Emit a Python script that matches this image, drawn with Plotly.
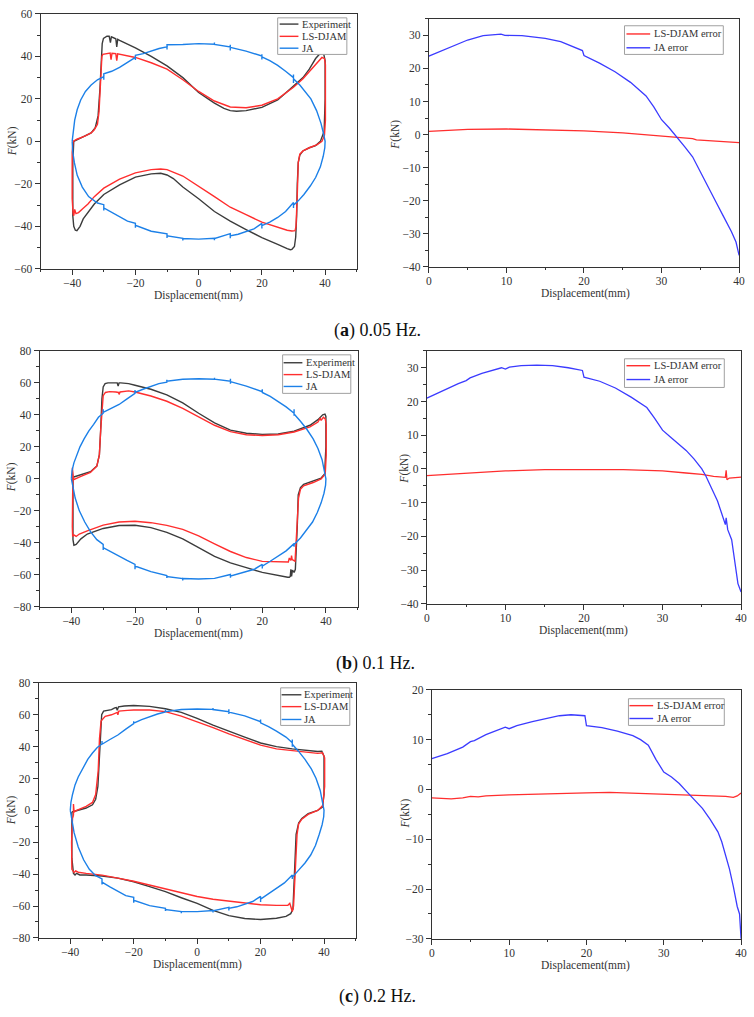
import plotly.graph_objects as go

W, H = 754, 1017

# ---------------- data ----------------
# (a) 0.05 Hz hysteresis loops: (displacement mm, force kN)
exp_a = [(-39.5, 0), (-38, 1), (-36, 2.5), (-34, 4), (-32.7, 6.4), (-31.8, 12), (-31.2, 25), (-30.8, 38),
         (-30.5, 46), (-30.1, 48.5), (-29, 49.5), (-28.3, 49.5), (-27.9, 46.5), (-27.6, 49.2), (-26.2, 48.3),
         (-25.9, 44.5), (-25.6, 48), (-25, 47.5), (-20, 44), (-15, 40), (-10, 35.5), (-5, 30), (0, 23),
         (3, 20), (5, 18), (8, 15.5), (10, 14.5), (12, 14.2), (15, 14.5), (20, 16), (25, 19.5), (30, 26),
         (33, 30), (35, 34), (37, 39), (38.5, 41.5), (39.5, 41.5), (40, 38), (40, 20), (39.7, 4.8),
         (38.5, 0), (37, -2), (35, -3), (33, -4.5), (32, -6.5), (31.5, -10), (31.2, -20), (31, -35),
         (30.7, -45), (30.3, -49.5), (29.5, -50.8), (29, -51), (28, -50.5), (25, -48.5), (20, -45.3),
         (15, -41.5), (10, -37.5), (5, -33), (0, -27), (-5, -21.5), (-8, -17.5), (-10, -15.8), (-12, -15),
         (-15, -15.3), (-20, -16.8), (-25, -20.5), (-30, -25), (-33, -29.5), (-35, -33.5), (-36.5, -36.5),
         (-37.5, -40), (-38.5, -42), (-39, -41.8), (-39.5, -40), (-39.8, -35), (-39.8, -10), (-39.5, 0)]
djam_a = [(-39.7, 0), (-38.5, 1), (-36, 2.5), (-34, 4), (-33, 5.5), (-32, 8), (-31.5, 14), (-31.2, 25),
          (-30.9, 35), (-30.6, 40), (-30.3, 41), (-29, 41.5), (-28, 41.6), (-27.7, 38.5), (-27.4, 41.5),
          (-26.2, 41.3), (-25.9, 38), (-25.6, 41.2), (-25, 41), (-20, 39.5), (-15, 37), (-10, 34), (-5, 29),
          (0, 23.5), (5, 19), (10, 16.2), (15, 15.8), (20, 17), (25, 20), (30, 25.5), (33, 29.5), (35, 33),
          (37, 36.5), (39, 39.5), (39.8, 39), (40.1, 36), (40.1, 10), (39.8, 3), (39, 0), (37.5, -1.5),
          (35, -3), (33, -4.5), (32, -6), (31.5, -10), (31.2, -25), (30.8, -40), (30.5, -42), (29.5, -42.2),
          (28, -41.8), (25, -40.3), (20, -38), (15, -34.5), (10, -31), (5, -26), (0, -21), (-5, -16.3),
          (-10, -13.3), (-12, -13), (-15, -13.3), (-20, -14.8), (-25, -17.8), (-30, -22), (-33, -26),
          (-35, -29.5), (-36.5, -31.5), (-38, -33.5), (-38.8, -34), (-39.2, -32), (-39.5, -35),
          (-39.7, -34), (-40, -27), (-40, -5), (-39.7, 0)]
ja_a = [(-40, 0), (-39.7, 5), (-39.2, 10), (-38.4, 15), (-37.3, 19.5), (-35.8, 23.5), (-34, 26.5),
        (-32, 29), (-30, 30.5), (-30, 29), (-30, 31.8), (-27.5, 33), (-25, 34.8), (-22.5, 37.2), (-20, 39.5),
        (-20, 38.3), (-20, 40.5), (-17.5, 41.3), (-15, 42.6), (-12.5, 43.7), (-10, 44.5), (-10, 43.3),
        (-10, 45.5), (-5, 45.6), (0, 46), (5, 45.7), (5, 46.6), (5, 45.6), (10, 44.5), (10, 45.5),
        (10, 42.8), (10, 44.3), (15, 42.5), (20, 40.2), (20, 41), (20, 38.6), (20, 39.8), (22.5, 38),
        (25, 35.8), (27.5, 33), (30, 30), (30, 31.5), (30, 27.5), (30, 29.5), (32, 26.5), (34, 23),
        (35.5, 20), (37.3, 14.5), (38.7, 8.5), (39.6, 3), (40, 0), (39.9, -3), (39.4, -7), (38.5, -12),
        (37, -17), (35.3, -21), (33.3, -25), (31.5, -28), (30, -30), (30, -31.3), (30, -28.8), (27.5, -33),
        (25, -35.8), (22.5, -38), (20, -39.7), (20, -41), (20, -38.6), (17.5, -41.2), (15, -42.5),
        (12.5, -43.7), (10, -44.5), (10, -45.6), (10, -43.4), (5, -45.7), (5, -46.5), (5, -45.6), (0, -46),
        (-5, -45.7), (-5, -46.6), (-5, -45.6), (-10, -44.5), (-10, -45.5), (-10, -43.5), (-15, -42.3),
        (-20, -39.5), (-20, -40.7), (-20, -38.6), (-22.5, -37.5), (-25, -35.5), (-27.5, -33.3), (-30, -31.3),
        (-30, -32.5), (-30, -29.8), (-32, -29), (-34.8, -26), (-36.8, -21.5), (-38.4, -16), (-39.3, -10),
        (-39.8, -5), (-40, 0)]

# (a) errors
err_x_a_djam = [0, 2, 5, 10, 15, 20, 25, 28, 30, 33, 34, 34.5, 36, 38, 40]
err_y_a_djam = [1.0, 1.3, 1.6, 1.7, 1.5, 1.1, 0.5, 0.0, -0.4, -1.0, -1.2, -1.6, -1.8, -2.2, -2.4]
err_x_a_ja = [0, 2, 4, 5, 7, 9.3, 9.8, 12, 15, 17, 19.8, 20, 22, 24, 26, 28, 29, 30, 31, 32, 33, 34, 35,
              36, 37, 38, 39, 39.6, 40]
err_y_a_ja = [23.7, 25.7, 27.6, 28.6, 29.9, 30.4, 30.0, 29.9, 29.1, 28.1, 25.4, 23.9, 21.6, 19.0, 15.8,
              11.7, 8.4, 4.5, 2.0, -0.7, -3.7, -6.7, -11.4, -16.0, -20.3, -24.8, -29.3, -32.5, -36.5]

# (b) 0.1 Hz hysteresis loops
exp_b = [(-39.5, 1), (-37, 2.5), (-34, 4.5), (-32, 8), (-31.2, 15), (-30.8, 30), (-30.4, 50), (-30, 57.5),
         (-29.4, 59.5), (-28.5, 60), (-27, 60), (-25.6, 60), (-25.3, 58), (-25, 60), (-24.5, 60),
         (-22, 59.5), (-20, 58.5), (-15, 56), (-10, 52.5), (-5, 47.5), (0, 41), (5, 35), (10, 30.5),
         (15, 28.5), (20, 27.8), (25, 28), (30, 29.8), (35, 33.5), (37.5, 37), (39, 40), (39.7, 40.5),
         (40, 39), (40, 20), (39.6, 3), (38.5, 0.5), (36, -1.5), (33, -3.5), (32, -5.5), (31.3, -10),
         (31, -30), (30.7, -50), (30.4, -56.5), (30, -58.5), (29.5, -57), (29.2, -61), (29, -56.5),
         (28.8, -61), (28.5, -61.5), (28, -61.5), (25, -60.5), (20, -58.5), (15, -55.5), (10, -52.5),
         (5, -48.5), (0, -43), (-5, -37.5), (-10, -33.5), (-15, -30.5), (-20, -29), (-25, -29.2),
         (-30, -31), (-35, -34.5), (-37, -37.5), (-38.5, -41), (-39.2, -41.5), (-39.5, -38), (-39.5, 1)]
djam_b = [(-39.5, -0.5), (-39.7, 7), (-39.3, -0.5), (-37, 1.5), (-34, 4), (-32, 8), (-31.2, 15),
          (-30.8, 30), (-30.4, 45), (-30, 52), (-29.3, 54), (-28, 54.5), (-26, 54.3), (-25.2, 54),
          (-25, 52.8), (-24.7, 54.3), (-22, 55), (-20, 54.3), (-15, 51.8), (-10, 48.5), (-5, 44), (0, 38.7),
          (5, 33.5), (10, 29.5), (15, 27.6), (20, 27.1), (25, 27.6), (30, 29.3), (35, 32.5), (37.5, 35.5),
          (38.2, 38), (38.5, 36.5), (39.2, 38.5), (39.8, 37.5), (40.1, 34), (40.1, 15), (39.8, 3),
          (38.5, 0), (36, -2.3), (33, -4.3), (32, -6.5), (31.4, -12), (31.1, -25), (30.8, -40),
          (30.6, -48), (30.3, -51.5), (29.4, -50.5), (29.2, -48), (29, -51), (28.5, -49.5), (28.2, -52),
          (25, -51.7), (20, -51.6), (15, -49.2), (10, -45.4), (5, -40.6), (0, -35.6), (-5, -31.6),
          (-10, -29.1), (-15, -27.4), (-20, -26.5), (-25, -27), (-30, -28.9), (-35, -32.5), (-37.5, -34.5),
          (-38.5, -36), (-39.2, -35), (-39.6, -36), (-39.7, -30), (-39.6, -10), (-39.5, -0.5)]
ja_b = [(-40, 0), (-39.8, 5), (-39.2, 10), (-38.3, 15), (-37.3, 20), (-36, 25), (-34.5, 30), (-33, 34),
        (-31.5, 38.5), (-30, 41), (-30, 43.5), (-30, 41.5), (-27.5, 44), (-25, 46.5), (-22.5, 50),
        (-20, 53.5), (-20, 55.5), (-20, 54), (-17.5, 56), (-15, 57.8), (-12.5, 59.5), (-10, 60.5),
        (-10, 62), (-10, 61), (-5, 62.3), (0, 62.6), (5, 62.3), (5, 63.2), (5, 62.3), (10, 61),
        (10, 62.5), (10, 59.5), (10, 60.8), (15, 58), (20, 54.5), (20, 56), (20, 54), (22.5, 51.5),
        (25, 48.5), (27.5, 45), (30, 41), (30, 43.5), (30, 39.5), (30, 40.5), (32, 36), (34, 31), (36, 25),
        (37.5, 19), (38.8, 12), (39.6, 5), (40, 0), (39.9, -4), (39.4, -9), (38.5, -15), (37.3, -21),
        (35.8, -27), (34, -32), (32, -37), (30, -41), (30, -42.5), (30, -40.5), (27.5, -45), (25, -48.5),
        (22.5, -51.5), (20, -54.5), (20, -56), (20, -53.5), (17.5, -56.5), (15, -58), (12.5, -59.5),
        (10, -60.7), (10, -61.8), (10, -59.8), (5, -62.2), (0, -62.6), (-5, -62.3), (-5, -63.5),
        (-5, -62.3), (-10, -61), (-10, -62), (-10, -60.5), (-15, -58), (-20, -54.5), (-20, -56.5),
        (-20, -53.5), (-22.5, -51), (-25, -48.5), (-27.5, -45.5), (-30, -43), (-30, -44.5), (-30, -41),
        (-32, -38), (-34, -33), (-35.8, -27), (-37.5, -20), (-38.8, -12), (-39.6, -5), (-40, 0)]

# (b) errors
err_x_b_djam = [0, 5, 10, 15, 20, 25, 28, 30, 33, 35, 36.5, 38, 38.1, 38.2, 38.5, 40]
err_y_b_djam = [-2.0, -1.2, -0.6, -0.2, -0.1, -0.2, -0.4, -0.6, -1.2, -1.6, -2.2, -2.5, -0.4, -3.2, -2.7, -2.4]
err_x_b_ja = [0, 2, 4, 5, 5.5, 7, 9, 9.5, 10, 10.5, 12, 14, 16, 18, 19.8, 20, 22, 24, 26, 28, 29, 30, 31,
              32, 33, 34, 35, 35.5, 36, 37, 37.5, 38, 38.1, 38.3, 38.8, 39.2, 39.6, 40]
err_y_b_ja = [21.0, 23.2, 25.3, 26.2, 27.0, 28.3, 29.7, 30.0, 29.6, 30.2, 30.6, 30.8, 30.6, 30.0, 29.2,
              27.2, 26.0, 24.0, 21.3, 18.2, 15.0, 11.5, 9.5, 7.5, 5.5, 3.0, 0.0, -2.0, -4.5, -9.5, -13.0,
              -16.5, -14.5, -18.0, -21.0, -28.0, -34.0, -36.5]

# (c) 0.2 Hz hysteresis loops
exp_c = [(-39.5, -1), (-38, 0), (-35, 1.5), (-33, 3.5), (-32, 7), (-31.3, 15), (-30.9, 30), (-30.5, 48),
         (-30.1, 60), (-29.5, 62.3), (-28, 62.8), (-27, 63.2), (-26, 64.3), (-25.5, 64.5), (-25.2, 62.8),
         (-24.8, 65), (-23, 65.5), (-20, 65.8), (-15, 65.3), (-10, 63.8), (-5, 61.5), (0, 57.8), (5, 53.5),
         (10, 49.5), (15, 46), (20, 42.3), (25, 40), (30, 38.6), (35, 37.5), (38, 37), (39.3, 37.2),
         (40, 34), (40, 10), (39.5, 2), (38, 0), (35, -2), (33, -5), (32, -8), (31.2, -15), (30.8, -35),
         (30.5, -55), (30.2, -62), (29.5, -64.8), (28, -66.5), (25, -67.7), (20, -68.5), (15, -67.8),
         (10, -66), (5, -62.8), (0, -58.4), (-5, -54.8), (-10, -51), (-15, -47.8), (-20, -44.8),
         (-25, -42.5), (-30, -41.2), (-35, -40.5), (-37, -40.5), (-38, -39.5), (-38.5, -40.5),
         (-39, -39.5), (-39.5, -30), (-39.5, -1)]
djam_c = [(-39, -3), (-39, 4), (-38.8, -1), (-38, 0), (-35, 2.5), (-33, 5), (-32, 10), (-31.2, 25),
          (-30.8, 45), (-30.3, 56), (-29, 59), (-27, 60), (-26, 60.8), (-25.2, 61.5), (-25, 60),
          (-24.7, 62.3), (-22, 62.8), (-20, 63), (-15, 63), (-10, 62), (-5, 59.2), (0, 55.7), (5, 52),
          (10, 48), (15, 44.5), (20, 41), (25, 38.6), (30, 37.4), (35, 36.2), (38, 35.8), (39.5, 36.2),
          (40.2, 33), (40.2, 15), (39.6, 3), (38, 0), (35, -2.5), (33, -5.5), (32, -8.5), (31.5, -15),
          (31.1, -30), (30.7, -50), (30.4, -60), (30, -63.5), (29.6, -59.8), (29.2, -58.3), (28.6, -59.5),
          (25, -59.6), (20, -59.2), (15, -58.2), (10, -57.2), (5, -55.8), (0, -54), (-5, -51.6),
          (-10, -49), (-15, -46.6), (-20, -44.5), (-25, -42.5), (-30, -40.6), (-35, -39.5),
          (-37.5, -38.8), (-38.3, -38), (-38.8, -39), (-39.5, -37), (-39.6, -20), (-39.3, -5), (-39, -3)]
ja_c = [(-40, 0), (-39.8, 5), (-39.3, 10), (-38.5, 16), (-37.5, 21), (-36, 27), (-34.5, 32), (-33, 36),
        (-31.5, 39.5), (-30, 41.7), (-30, 43.5), (-30, 41.5), (-27.5, 44.5), (-25, 47.3), (-22.5, 51),
        (-20, 54.5), (-20, 56), (-20, 54.8), (-17.5, 57), (-15, 58.8), (-12.5, 60.5), (-10, 61.8),
        (-10, 63.3), (-10, 62), (-5, 63.3), (0, 63.6), (5, 63.4), (5, 64.2), (5, 63.3), (10, 62),
        (10, 63.5), (10, 60.5), (10, 61.7), (15, 59.3), (20, 55.7), (20, 57), (20, 55), (22.5, 52.5),
        (25, 49.8), (28, 46), (30, 42.5), (30, 44.5), (30, 40), (30, 41.5), (32, 37), (34, 32), (36, 26),
        (37.5, 20), (38.8, 12.5), (39.6, 5), (40, 0), (39.9, -4), (39.4, -9), (38.5, -15), (37.3, -22),
        (35.8, -28), (34, -33), (32, -37.5), (30, -41.9), (30, -43), (30, -40.5), (27.5, -45.5),
        (25, -49), (22.5, -52.5), (20, -55.7), (20, -57.5), (20, -54), (17.5, -57.2), (15, -59),
        (12.5, -60.5), (10, -61.5), (10, -62.8), (10, -60.8), (5, -63), (5, -64), (5, -62.8), (0, -63.5),
        (-5, -63.5), (-5, -64.5), (-5, -63.5), (-10, -62.2), (-10, -63.2), (-10, -61.5), (-15, -59.8),
        (-20, -56.4), (-20, -58), (-20, -54.5), (-22.5, -53.5), (-25, -51), (-27.5, -48), (-30, -45),
        (-30, -46.5), (-30, -43), (-32, -41), (-34, -37), (-35.8, -31), (-37.5, -23), (-38.8, -14),
        (-39.6, -6), (-40, 0)]

# (c) errors
err_x_c_djam = [0, 2.5, 4, 5, 6, 7, 10, 12, 15, 17, 20, 23, 25, 27, 30, 33, 36, 38, 39, 39.5, 40]
err_y_c_djam = [-1.7, -1.9, -1.7, -1.4, -1.5, -1.3, -1.1, -1.0, -0.8, -0.7, -0.7, -0.6, -0.7, -0.8,
                -0.9, -1.1, -1.2, -1.4, -1.6, -1.3, -0.7]
err_x_c_ja = [0, 2, 4, 5, 5.5, 6, 7, 8, 9.5, 10, 11, 13, 15, 16.5, 18, 19.8, 20, 22, 24, 25, 26, 27, 28,
              29, 30, 31, 32, 33, 34, 35, 36, 37, 37.5, 38, 38.5, 39, 39.5, 39.8, 40]
err_y_c_ja = [6.2, 7.2, 8.5, 9.6, 9.8, 10.2, 11.0, 11.6, 12.5, 12.2, 12.8, 13.6, 14.3, 14.8, 15.0, 14.8,
              12.8, 12.4, 11.7, 11.3, 10.8, 10.0, 8.9, 6.0, 3.5, 2.5, 1.2, -0.5, -2.2, -3.8, -6.0, -8.5,
              -10.5, -13.0, -16.0, -19.5, -23.5, -25.0, -30.0]

loop_names = ["Experiment", "LS-DJAM", "JA"]
err_names = ["LS-DJAM error", "JA error"]
x_title = "Displacement(mm)"
y_title = "<i>F</i>(kN)"
captions = ["(<b>a</b>) 0.05 Hz.", "(<b>b</b>) 0.1 Hz.", "(<b>c</b>) 0.2 Hz."]

# ---------------- styling / layout ----------------
FONT = "Liberation Serif"
TXT = "#333333"
C_EXP = "#3c3c3c"
C_DJAM = "#ff2e2e"
C_JA = "#1c80e8"
C_JAERR = "#3b3bff"


def px(x):
    return x / W


def py(y):
    return 1 - y / H


# panel geometry in pixels: x0, x1, y0(top), y1(bottom)
geo = [
    (38, 358, 8, 266), (431, 745, 13, 264),
    (37, 359, 349, 608), (429, 747, 349, 605),
    (36, 357, 685, 943), (434, 747, 692, 944),
]
ranges = [
    ([-50, 50], [-60, 60], 20, 10, 20, 10),
    ([0, 40], [-40, 35], 10, 5, 10, 5),
    ([-50, 50], [-80, 80], 20, 10, 20, 10),
    ([0, 40], [-40, 35], 10, 5, 10, 5),
    ([-50, 50], [-80, 80], 20, 10, 20, 10),
    ([0, 40], [-30, 20], 10, 5, 10, 5),
]

fig = go.Figure()


def xy(pairs):
    return [p[0] for p in pairs], [p[1] for p in pairs]


loops = [(exp_a, djam_a, ja_a), (exp_b, djam_b, ja_b), (exp_c, djam_c, ja_c)]
errs = [
    ((err_x_a_djam, err_y_a_djam), (err_x_a_ja, err_y_a_ja)),
    ((err_x_b_djam, err_y_b_djam), (err_x_b_ja, err_y_b_ja)),
    ((err_x_c_djam, err_y_c_djam), (err_x_c_ja, err_y_c_ja)),
]

for r in range(3):
    li = 2 * r + 1
    ei = 2 * r + 2
    for data, name, col in zip(loops[r], loop_names, [C_EXP, C_DJAM, C_JA]):
        xs, ys = xy(data)
        fig.add_trace(go.Scatter(x=xs, y=ys, mode="lines", name=name, showlegend=False,
                                 line=dict(color=col, width=1.4),
                                 xaxis=f"x{li}", yaxis=f"y{li}"))
    for (xs, ys), name, col in zip(errs[r], err_names, [C_DJAM, C_JAERR]):
        fig.add_trace(go.Scatter(x=xs, y=ys, mode="lines", name=name, showlegend=False,
                                 line=dict(color=col, width=1.3),
                                 xaxis=f"x{ei}", yaxis=f"y{ei}"))

layout = dict(width=W, height=H, margin=dict(l=0, r=0, t=0, b=0),
              paper_bgcolor="white", plot_bgcolor="white", showlegend=False,
              font=dict(family=FONT, size=11, color=TXT))

for i, ((x0, x1, y0, y1), (xr, yr, xdt, xmn, ydt, ymn)) in enumerate(zip(geo, ranges), start=1):
    common = dict(showgrid=False, zeroline=False, tickfont=dict(family=FONT, size=11.5, color=TXT))
    layout[f"xaxis{i}"] = dict(domain=[px(x0), px(x1)], range=xr, anchor=f"y{i}", dtick=xdt, tick0=0,
                               showline=True, mirror=True, linecolor="#333", linewidth=1,
                               ticks="outside", ticklen=5, tickwidth=1, tickcolor="#333",
                               ticklabelstandoff=-2,
                               minor=dict(ticks="outside", ticklen=2.5, dtick=xmn, tickcolor="#333"),
                               **common)
    layout[f"yaxis{i}"] = dict(domain=[py(y1), py(y0)], range=yr, anchor=f"x{i}", dtick=ydt, tick0=0,
                               showline=True, mirror=True, linecolor="#333", linewidth=1,
                               ticks="outside", ticklen=5, tickwidth=1, tickcolor="#333",
                               minor=dict(ticks="outside", ticklen=2.5, dtick=ymn, tickcolor="#333"),
                               **common)
    # mirrored inward ticks on top and right
    layout[f"xaxis{i + 6}"] = dict(overlaying=f"x{i}", anchor=f"y{i}", side="top", range=xr, dtick=xdt,
                                   tick0=0, showticklabels=False, showline=False, showgrid=False,
                                   zeroline=False, ticks="inside", ticklen=4, tickcolor="#333",
                                   minor=dict(ticks="inside", ticklen=2.5, dtick=xmn, tickcolor="#333"))
    layout[f"yaxis{i + 6}"] = dict(overlaying=f"y{i}", anchor=f"x{i}", side="right", range=yr, dtick=ydt,
                                   tick0=0, showticklabels=False, showline=False, showgrid=False,
                                   zeroline=False, ticks="inside", ticklen=4, tickcolor="#333",
                                   minor=dict(ticks="inside", ticklen=2.5, dtick=ymn, tickcolor="#333"))

annotations = []
shapes = []

# axis titles
xt_pos = [(198, 293), (590, 291), (198, 635), (588, 632), (197, 970), (590, 971)]
yt_pos = [(10, 137), (397, 130), (8, 477), (406, 468), (8, 814), (407, 817)]
for (ax, ay), (bx, by) in zip(xt_pos, yt_pos):
    annotations.append(dict(text=x_title, x=px(ax), y=py(ay), xref="paper", yref="paper",
                            showarrow=False, xanchor="center", yanchor="middle",
                            font=dict(family=FONT, size=11.5, color=TXT)))
    annotations.append(dict(text=y_title, x=px(bx), y=py(by), xref="paper", yref="paper",
                            showarrow=False, xanchor="center", yanchor="middle", textangle=-90,
                            font=dict(family=FONT, size=11.5, color=TXT)))

# captions
cap_pos = [(333, 328), (335, 665), (338, 1002)]
for txt, (cx, cy) in zip(captions, cap_pos):
    annotations.append(dict(text=txt, x=px(cx), y=py(cy), xref="paper", yref="paper",
                            showarrow=False, xanchor="left", yanchor="middle",
                            font=dict(family=FONT, size=18, color="#111")))

# legends (box, row centres, line span, text start)
legends = [
    ((278, 12, 348, 49), [18.3, 30.7, 42.7], (280, 299), 301, loop_names, [C_EXP, C_DJAM, C_JA]),
    ((629, 20, 729, 49), [28.3, 42.3], (631, 655), 657, err_names, [C_DJAM, C_JAERR]),
    ((283, 353, 352, 392), [361, 373, 385], (284, 303), 305, loop_names, [C_EXP, C_DJAM, C_JA]),
    ((629, 357, 730, 386), [364, 378], (631, 655), 657, err_names, [C_DJAM, C_JAERR]),
    ((281, 690, 351, 728), [697, 709, 722], (282, 302), 303, loop_names, [C_EXP, C_DJAM, C_JA]),
    ((633, 701, 730, 728), [708, 721], (634, 658), 660, err_names, [C_DJAM, C_JAERR]),
]
for (bx0, by0, bx1, by1), rows, (lx0, lx1), tx, names, cols in legends:
    shapes.append(dict(type="rect", xref="paper", yref="paper", x0=px(bx0), x1=px(bx1),
                       y0=py(by1), y1=py(by0), line=dict(color="#a0a0a0", width=1),
                       fillcolor="white", layer="above"))
    for ry, name, col in zip(rows, names, cols):
        shapes.append(dict(type="line", xref="paper", yref="paper", x0=px(lx0), x1=px(lx1),
                           y0=py(ry), y1=py(ry), line=dict(color=col, width=1.4), layer="above"))
        annotations.append(dict(text=name, x=px(tx), y=py(ry), xref="paper", yref="paper",
                                showarrow=False, xanchor="left", yanchor="middle",
                                font=dict(family=FONT, size=10.5, color=TXT)))

layout["annotations"] = annotations
layout["shapes"] = shapes
fig.update_layout(**layout)

fig.write_html("out.html")
